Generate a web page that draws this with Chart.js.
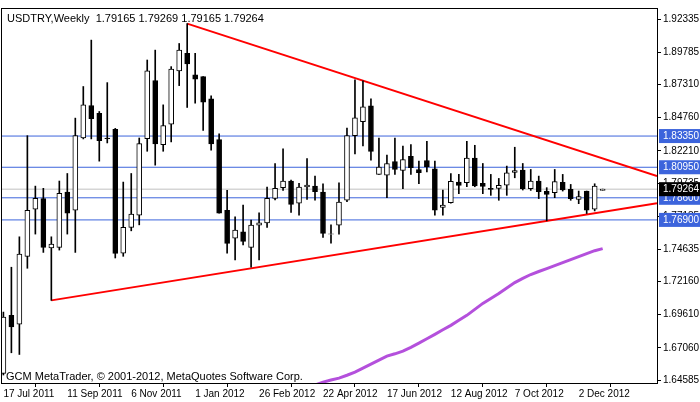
<!DOCTYPE html>
<html>
<head>
<meta charset="utf-8">
<script src="https://cdn.jsdelivr.net/npm/chart.js@4.4.1/dist/chart.umd.min.js"></script>
<style>
  html, body { margin: 0; padding: 0; background: #fff; }
  #wrap { width: 700px; height: 402px; }
</style>
</head>
<body>
<div id="wrap"><canvas id="myChart" width="700" height="402"></canvas></div>
<script>
// weekly candles, USDTRY, from 17 Jul 2011
const opens  = [1.6510,1.6956,1.6888,1.7410,1.7772,1.7854,1.7474,1.7479,1.7905,1.7764,1.8320,1.8570,1.8509,1.8320,1.8387,1.7435,1.7632,1.7726,1.8315,1.8762,1.8269,1.8427,1.8836,1.8971,1.8805,1.8792,1.8621,1.8308,1.7764,1.7550,1.7598,1.7479,1.7650,1.7667,1.7856,1.7938,1.7989,1.7818,1.7943,1.7951,1.7905,1.7581,1.7650,1.7841,1.8338,1.8445,1.8568,1.8040,1.8035,1.8139,1.8070,1.8180,1.8078,1.8147,1.8083,1.7787,1.7823,1.7981,1.7976,1.8165,1.7971,1.7933,1.7933,1.7958,1.8055,1.8073,1.7930,1.7989,1.7910,1.7900,1.7979,1.7925,1.7848,1.7912,1.7772,1.79165];
const highs  = [1.6981,1.7326,1.7560,1.8338,1.7950,1.7933,1.7560,1.7989,1.8047,1.8473,1.8716,1.9073,1.8524,1.8746,1.8394,1.7981,1.8047,1.8320,1.8920,1.8996,1.8575,1.8869,1.9047,1.9200,1.8971,1.8792,1.8644,1.8353,1.7917,1.7713,1.7805,1.7688,1.7744,1.7943,1.8124,1.8236,1.7997,1.7971,1.8162,1.8027,1.7968,1.7652,1.7976,1.8397,1.8767,1.8759,1.8621,1.8320,1.8188,1.8320,1.8257,1.8269,1.8142,1.8295,1.8142,1.7920,1.8047,1.8040,1.8295,1.8264,1.8124,1.8040,1.8009,1.8104,1.8249,1.8124,1.8078,1.8027,1.7938,1.8078,1.8040,1.7963,1.7912,1.7912,1.7968,1.79269];
const lows   = [1.6497,1.6668,1.6655,1.7318,1.7581,1.7440,1.7071,1.7458,1.7581,1.7440,1.8313,1.8313,1.8142,1.8282,1.7397,1.7410,1.7606,1.7652,1.8218,1.8111,1.8218,1.8290,1.8723,1.8555,1.8588,1.8379,1.8226,1.7741,1.7435,1.7382,1.7497,1.7326,1.7382,1.7632,1.7843,1.7917,1.7747,1.7726,1.7848,1.7841,1.7555,1.7512,1.7581,1.7831,1.8198,1.8259,1.8149,1.8040,1.7861,1.8040,1.7930,1.8040,1.7968,1.8060,1.7726,1.7726,1.7818,1.7892,1.7945,1.7945,1.7892,1.7879,1.7841,1.7879,1.8014,1.7920,1.7917,1.7854,1.7683,1.7861,1.7912,1.7841,1.7815,1.7739,1.7759,1.79165];
const closes = [1.6943,1.6867,1.7428,1.7764,1.7856,1.7479,1.7504,1.7894,1.7741,1.8338,1.8575,1.8468,1.8300,1.8315,1.7433,1.7632,1.7734,1.8277,1.8836,1.8274,1.8415,1.8851,1.8996,1.8889,1.8772,1.8596,1.8274,1.7741,1.7509,1.7611,1.7525,1.7650,1.7667,1.7856,1.7933,1.7989,1.7810,1.7943,1.7958,1.7907,1.7586,1.7581,1.7828,1.8338,1.8476,1.8560,1.8216,1.8096,1.8124,1.8078,1.8154,1.8091,1.8053,1.8098,1.7764,1.7805,1.7986,1.7956,1.8165,1.7951,1.7948,1.7925,1.7956,1.8053,1.8070,1.7930,1.7989,1.7907,1.7887,1.7984,1.7920,1.7854,1.7869,1.7764,1.7951,1.79264];
// moving average, visible part only (null = below the chart)
const maValues = [null,null,null,null,null,null,null,null,null,null,null,null,null,null,null,null,null,null,null,null,null,null,null,null,null,null,null,null,null,null,null,null,null,null,null,null,null,null,1.6400,1.6420,1.6442,1.6458,1.6473,1.6495,1.6519,1.6550,1.6581,1.6612,1.6642,1.6660,1.6680,1.6710,1.6742,1.6776,1.6810,1.6845,1.6879,1.6918,1.6956,1.7002,1.7048,1.7086,1.7124,1.7166,1.7208,1.7240,1.7270,1.7293,1.7316,1.7338,1.7361,1.7384,1.7407,1.7430,1.7453,1.7469];
const dateLabels = ['17 Jul 2011','11 Sep 2011','6 Nov 2011','1 Jan 2012','26 Feb 2012','22 Apr 2012','17 Jun 2012','12 Aug 2012','7 Oct 2012','2 Dec 2012'];
const dateIndex  = [0,8,16,24,32,40,48,56,64,72];
const priceTicks = [1.92335,1.89785,1.87310,1.84760,1.82210,1.79735,1.77185,1.74635,1.72160,1.69610,1.67060,1.64585];
const levels = [1.83350,1.80950,1.78600,1.76900];
const lastPrice = 1.79264;
const upperTrend = [{x:23,y:1.9200},{x:81.8,y:1.8027}];
const lowerTrend = [{x:6,y:1.7071},{x:81.8,y:1.7818}];

const xMin = -0.3, xMax = 81.8;
const font = { family: 'Liberation Sans', size: 10 };

const wickData = highs.map((h, i) => ({ x: i, y: [lows[i], h] }));
const bodyData = opens.map((o, i) => {
    let a = o, b = closes[i];
    if (Math.abs(a - b) < 0.0003) { a = (a + b) / 2 - 0.00015; b = a + 0.0003; }
    return { x: i, y: [a, b] };
});
const bodyColors = opens.map((o, i) => closes[i] >= o ? '#ffffff' : '#000000');

const hLine = (v, color) => ({
    type: 'line', data: [{x:xMin,y:v},{x:xMax,y:v}], borderColor: color,
    borderWidth: 1, pointRadius: 0, order: 5
});

const overlay = {
    id: 'overlay',
    afterDraw(chart) {
        const c = chart.ctx, a = chart.chartArea, ys = chart.scales.y;
        c.save();
        c.strokeStyle = '#000'; c.lineWidth = 1;
        c.strokeRect(a.left + 0.5, a.top + 0.5, a.right - a.left, a.bottom - a.top);
        c.font = '10px Liberation Sans';
        c.textBaseline = 'middle';
        levels.forEach(v => {
            const y = ys.getPixelForValue(v);
            c.fillStyle = '#3c64dc';
            c.fillRect(a.right + 2, y - 7, 700 - a.right - 2, 14);
            c.fillStyle = '#fff';
            c.fillText(v.toFixed(5), a.right + 6, y);
        });
        const yl = ys.getPixelForValue(lastPrice);
        c.fillStyle = '#000';
        c.fillRect(a.right + 2, yl - 7, 700 - a.right - 2, 14);
        c.fillStyle = '#fff';
        c.fillText(lastPrice.toFixed(5), a.right + 6, yl);
        c.fillStyle = '#000';
        c.font = '11px Liberation Sans';
        c.fillText('USDTRY,Weekly  1.79165 1.79269 1.79165 1.79264', a.left + 6, a.top + 11);
        c.fillText('GCM MetaTrader, \u00a9 2001-2012, MetaQuotes Software Corp.', a.left + 5, a.bottom - 6);
        c.restore();
    }
};

new Chart(document.getElementById('myChart').getContext('2d'), {
    type: 'bar',
    data: {
        datasets: [
            { type: 'bar', data: bodyData, backgroundColor: bodyColors, borderColor: '#000', borderWidth: 1,
              borderSkipped: false, barThickness: 5, grouped: false, order: 0 },
            { type: 'bar', data: wickData, backgroundColor: '#000', borderWidth: 0,
              barThickness: 1, grouped: false, order: 1 },
            { type: 'line', data: upperTrend, borderColor: '#ff0000', borderWidth: 2, pointRadius: 0, order: 3 },
            { type: 'line', data: lowerTrend, borderColor: '#ff0000', borderWidth: 2, pointRadius: 0, order: 3 },
            { type: 'line', data: maValues.map((v, i) => ({ x: i, y: v })), borderColor: '#b450dc', borderWidth: 3,
              pointRadius: 0, spanGaps: false, order: 4 },
            hLine(lastPrice, '#c0c0c0'),
            ...levels.map(v => hLine(v, '#3c64dc'))
        ]
    },
    options: {
        animation: false,
        responsive: false,
        layout: { padding: { top: 6, left: 1, right: 0, bottom: 0 } },
        plugins: { legend: { display: false }, tooltip: { enabled: false } },
        scales: {
            x: {
                type: 'linear', min: xMin, max: xMax, offset: false,
                afterBuildTicks: s => { s.ticks = dateIndex.map(v => ({ value: v })); },
                afterFit: s => { s.height = 19; },
                grid: { drawOnChartArea: false, drawTicks: true, tickLength: 4, color: '#000' },
                border: { display: false },
                ticks: { font: font, color: '#000', align: 'start', maxRotation: 0, padding: 1,
                         callback: v => dateLabels[dateIndex.indexOf(v)] }
            },
            y: {
                position: 'right', min: 1.64355, max: 1.93200,
                afterBuildTicks: s => { s.ticks = priceTicks.map(v => ({ value: v })); },
                afterFit: s => { s.width = 43; },
                grid: { drawOnChartArea: false, drawTicks: true, tickLength: 4, color: '#000' },
                border: { display: false },
                ticks: { font: font, color: '#000', padding: 2, callback: v => v.toFixed(5) }
            }
        }
    },
    plugins: [overlay]
});
</script>
</body>
</html>
